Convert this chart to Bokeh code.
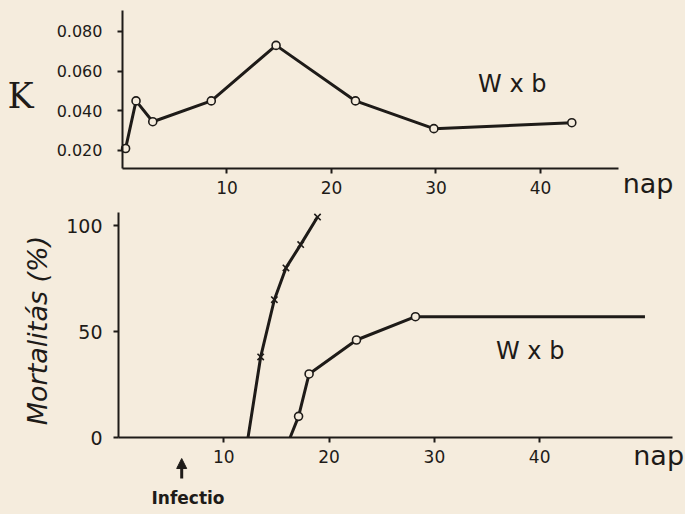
import math
from bokeh.plotting import figure
from bokeh.layouts import column
from bokeh.models import Range1d, Arrow, NormalHead, FixedTicker, PrintfTickFormatter
from bokeh.core.properties import value
from bokeh.embed import file_html
from bokeh.resources import INLINE

# ---- data ----
k_days = [0.3, 1.3, 2.9, 8.5, 14.7, 22.3, 29.8, 43.0]
k_vals = [0.021, 0.045, 0.0345, 0.045, 0.073, 0.045, 0.031, 0.034]

ctrl_days = [12.3, 13.5, 14.8, 15.9, 17.3, 18.9]
ctrl_mort = [0, 38, 65, 80, 91, 104]

wxb_days = [16.3, 17.1, 18.1, 22.6, 28.2, 50.0]
wxb_mort = [0, 10, 30, 46, 57, 57]

x_ticks = [10, 20, 30, 40]
k_ticks = [0.020, 0.040, 0.060, 0.080]
m_ticks = [0, 50, 100]
infection_day = 6

BG = "#f5ecdd"
INK = "#1e1b18"
FONT = "DejaVu Sans"


def style(p, xb, yb, x_at, y_at, ytick_size, ystandoff):
    p.background_fill_color = BG
    p.border_fill_color = BG
    p.outline_line_color = None
    p.xgrid.visible = False
    p.ygrid.visible = False
    for ax in (p.xaxis[0], p.yaxis[0]):
        ax.axis_line_color = INK
        ax.axis_line_width = 2
        ax.major_tick_line_color = INK
        ax.major_tick_line_width = 2
        ax.major_tick_out = 5
        ax.major_tick_in = 0
        ax.minor_tick_line_color = None
        ax.major_label_text_color = INK
        ax.major_label_text_font = FONT
    p.xaxis[0].fixed_location = x_at
    p.yaxis[0].fixed_location = y_at
    p.xaxis[0].bounds = xb
    p.yaxis[0].bounds = yb
    p.xaxis[0].major_label_text_font_size = "17px"
    p.xaxis[0].major_label_standoff = 7
    p.yaxis[0].major_label_text_font_size = ytick_size
    p.yaxis[0].major_label_standoff = ystandoff
    p.xaxis[0].ticker = FixedTicker(ticks=x_ticks)


def txt(p, x, y, s, size, font=FONT, style="normal", angle=0.0):
    p.text(x=[x], y=[y], text=[s], text_font=value(font),
           text_font_size=value(size), text_font_style=style,
           text_color=INK, text_align="center", text_baseline="middle",
           angle=angle)


# ---- top panel: K ----
top = figure(width=685, height=200, output_backend="svg", toolbar_location=None,
             x_range=Range1d(-11.67, 53.88), y_range=Range1d(-0.00522, 0.09563),
             min_border=0)
style(top, (0, 47.5), (0.0109, 0.0906), 0.0109, 0, "16px", 15)
top.yaxis[0].ticker = FixedTicker(ticks=k_ticks)
top.yaxis[0].formatter = PrintfTickFormatter(format="%.3f")

top.line(k_days, k_vals, line_color=INK, line_width=3)
top.scatter(k_days, k_vals, marker="circle", size=8, fill_color=BG,
            line_color=INK, line_width=1.6)

txt(top, -9.76, 0.0477, "K", "35px", font="DejaVu Serif")
txt(top, 37.3, 0.0533, "W x b", "24px")
txt(top, 50.3, 0.0036, "nap", "27px")

# ---- bottom panel: mortality ----
bot = figure(width=685, height=314, output_backend="svg", toolbar_location=None,
             x_range=Range1d(-11.21, 53.85), y_range=Range1d(-36.3, 111.8),
             min_border=0)
style(bot, (0, 52.6), (0, 106.1), 0, 0, "19px", 11)
bot.yaxis[0].ticker = FixedTicker(ticks=m_ticks)

bot.line(ctrl_days, ctrl_mort, line_color=INK, line_width=3)
bot.scatter(ctrl_days[1:], ctrl_mort[1:], marker="x", size=9,
            line_color=INK, line_width=1.6)

bot.line(wxb_days, wxb_mort, line_color=INK, line_width=3)
bot.scatter(wxb_days[1:-1], wxb_mort[1:-1], marker="circle", size=8,
            fill_color=BG, line_color=INK, line_width=1.6)

txt(bot, 39.1, 41, "W x b", "24px")
txt(bot, 51.3, -8.5, "nap", "27px")
txt(bot, -7.7, 50.5, "Mortalitás (%)", "27px", style="italic", angle=math.pi / 2)
txt(bot, 6.6, -28.3, "Infectio", "17px", style="bold")
bot.add_layout(Arrow(x_start=infection_day, y_start=-19.3,
                     x_end=infection_day, y_end=-9.9,
                     line_color=INK, line_width=3,
                     end=NormalHead(size=10, fill_color=INK, line_color=INK)))

layout = column(top, bot, spacing=0)
layout.styles = {"background-color": BG}

open("out.html", "w").write(file_html(layout, INLINE))
